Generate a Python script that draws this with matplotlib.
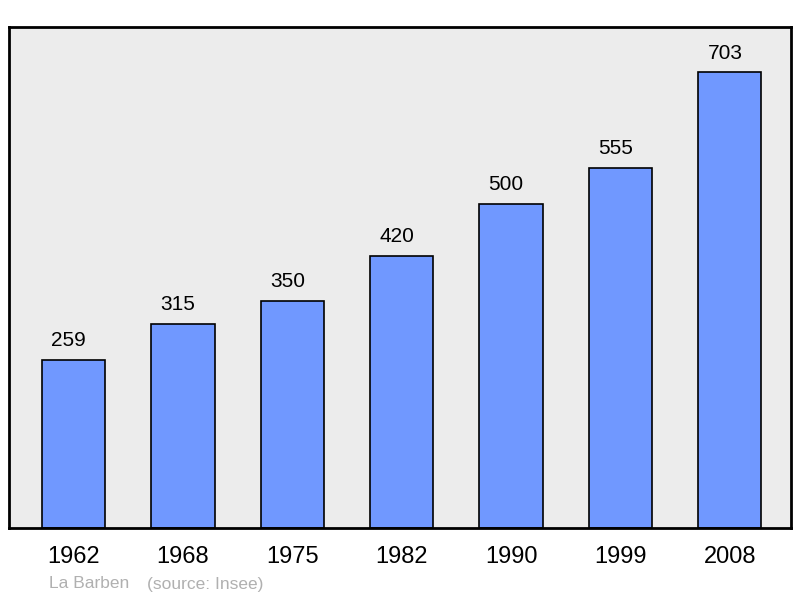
import numpy as np
import matplotlib.pyplot as plt

plt.rcParams['font.family'] = ['Liberation Sans', 'DejaVu Sans']

# population by census year
years = ['1962', '1968', '1975', '1982', '1990', '1999', '2008']
population = [259, 315, 350, 420, 500, 555, 703]

fig = plt.figure(figsize=(8, 5.98), dpi=100)
ax = fig.add_axes([0.01125, 0.117, 0.9775, 0.838])
ax.set_facecolor('#ececec')

x = np.arange(len(years))
bars = ax.bar(x, population, width=0.58, color='#7098ff',
              edgecolor='black', linewidth=1.2, zorder=2)

# value labels above each bar (sit a little left of centre, as in the original)
for xi, val in zip(x, population):
    ax.annotate(str(val), (xi, val), xytext=(-3.5, 10), textcoords='offset points',
                ha='center', va='baseline', fontsize=15)

ax.set_xlim(-0.59, 6.56)
ax.set_ylim(0, max(population) * 1.1)
ax.set_xticks(x)
ax.set_xticklabels(years, fontsize=17)
ax.tick_params(axis='x', length=0, pad=13)
ax.set_yticks([])
for s in ax.spines.values():
    s.set_linewidth(2)

fig.text(49 / 800, 1 - 584 / 598, 'La Barben', color='#b0b0b0', fontsize=12.5,
         va='center', ha='left')
fig.text(147 / 800, 1 - 584 / 598, '(source: Insee)', color='#b0b0b0',
         fontsize=12.5, va='center', ha='left')

fig.savefig('out.png', dpi=100)
